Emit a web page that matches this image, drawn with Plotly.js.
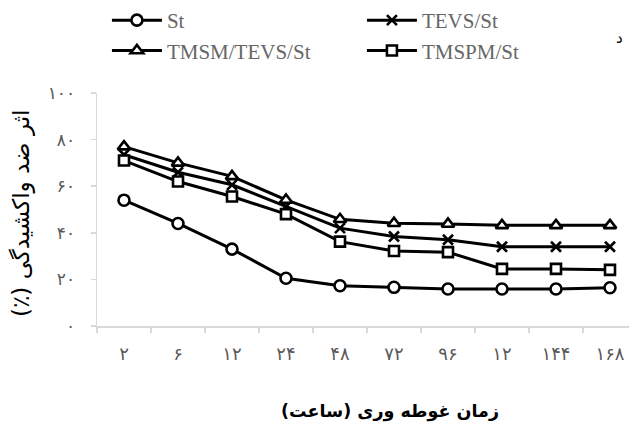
<!DOCTYPE html>
<html>
<head>
<meta charset="utf-8">
<script src="https://cdn.plot.ly/plotly-3.0.1.min.js"></script>
<style>html,body{margin:0;padding:0;background:#fff;}#chart{width:629px;height:437px;}</style>
</head>
<body>
<div id="chart"></div>
<script>
// Immersion time (hours) labels, as printed (Persian digits)
var hourLabels = ['۲','۶','۱۲','۲۴','۴۸','۷۲','۹۶','۱۲','۱۴۴','۱۶۸'];
var xIndex = [0,1,2,3,4,5,6,7,8,9];

// Anti-swelling efficiency (%) per series
var seriesNames = ['St','TEVS/St','TMSM/TEVS/St','TMSPM/St'];
var stValues    = [54.0, 44.0, 33.0, 20.5, 17.3, 16.6, 15.9, 15.9, 15.9, 16.4];
var tevsValues  = [73.5, 66.0, 60.6, 51.3, 42.0, 38.4, 37.0, 34.0, 34.0, 34.0];
var tmsmValues  = [77.0, 70.0, 64.2, 54.1, 45.8, 44.1, 43.8, 43.2, 43.2, 43.2];
var tmspmValues = [71.0, 62.0, 55.6, 48.0, 36.2, 32.2, 31.7, 24.5, 24.5, 24.1];

var yTickVals = [0,20,40,60,80,100];
var yTickText = ['۰','۲۰','۴۰','۶۰','۸۰','۱۰۰'];

var boundaries = xIndex.map(function(i){return i-0.5;}).concat([9.5]);

function mk(name, vals, symbol, size){
  return {
    x: xIndex, y: vals, name: name, type: 'scatter', mode: 'lines+markers',
    line: {color:'#000', width:3},
    marker: {symbol: symbol, size: size, color: symbol.indexOf('x')===0 ? '#000' : '#fff',
             line: {color:'#000', width: 2.6}},
    cliponaxis: false
  };
}

var data = [
  mk(seriesNames[0], stValues, 'circle', 11),
  mk(seriesNames[1], tevsValues, 'x-thin-open', 10),
  mk(seriesNames[2], tmsmValues, 'triangle-up', 11),
  mk(seriesNames[3], tmspmValues, 'square', 10)
];

var layout = {
  width: 629, height: 437,
  margin: {l:97, r:0, t:93, b:111},
  paper_bgcolor:'#fff', plot_bgcolor:'#fff',
  showlegend: true,
  legend: {
    orientation:'h', x: 0.17, y: 1.0, xref:'container', yref:'container',
    xanchor:'left', yanchor:'top',
    font: {family:'Liberation Serif', size:21, color:'#666666'},
    itemwidth: 50, entrywidth: 190, tracegroupgap: 0,
    bgcolor:'rgba(0,0,0,0)'
  },
  xaxis: {
    range: [-0.5, 9.352], showgrid:false, zeroline:false,
    showline:true, linecolor:'#d9d9d9', linewidth:1.5,
    tickvals: xIndex, ticktext: hourLabels, ticks:'',
    ticklabelstandoff: 11,
    tickfont: {family:'DejaVu Sans', size:18, color:'#595959'},
    minor: {tickvals: boundaries, ticks:'outside', ticklen:5, tickcolor:'#d9d9d9', tickwidth:1.5, showgrid:false}
  },
  yaxis: {
    range: [0,100], showgrid:false, zeroline:false,
    showline:true, linecolor:'#d9d9d9', linewidth:1.5,
    tickvals: yTickVals, ticktext: yTickText, ticks:'outside', ticklen:5,
    tickcolor:'#d9d9d9', tickwidth:1.5, ticklabelstandoff: 12,
    tickfont: {family:'DejaVu Sans', size:17, color:'#595959'}
  },
  annotations: [
    {text:'اثر ضد واکشیدگی (٪)\u200F', xref:'paper', yref:'paper', x:-0.141, y:0.485,
     textangle:-90, showarrow:false, xanchor:'center', yanchor:'middle',
     font:{family:'DejaVu Sans', size:23, color:'#000'}},
    {text:'<b>زمان غوطه وری (ساعت)</b>', xref:'paper', yref:'paper', x:0.551, y:-0.365,
     showarrow:false, xanchor:'center', yanchor:'middle',
     font:{family:'DejaVu Sans', size:17.5, color:'#000'}},
    {text:'د', xref:'paper', yref:'paper', x:0.983, y:1.236, showarrow:false,
     xanchor:'center', yanchor:'middle', font:{family:'DejaVu Sans', size:15, color:'#000'}}
  ]
};

Plotly.newPlot('chart', data, layout, {displayModeBar:false, staticPlot:true});
</script>
</body>
</html>
